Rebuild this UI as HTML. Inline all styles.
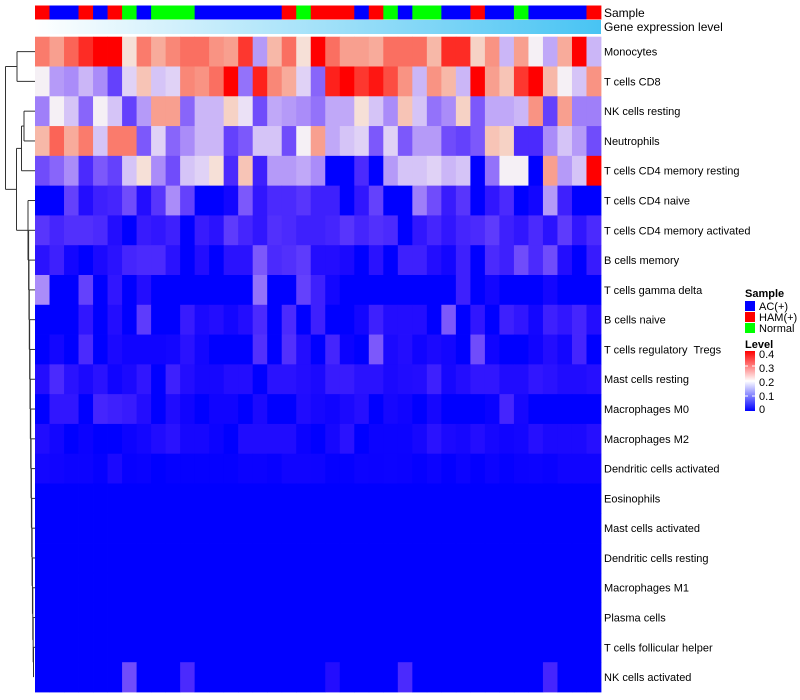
<!DOCTYPE html>
<html><head><meta charset="utf-8"><style>
html,body{margin:0;padding:0;background:#fff;}
svg{display:block;font-family:"Liberation Sans",sans-serif;}
#rowLabels text{white-space:pre;}
</style></head><body>
<svg id="chart" width="800" height="700" xmlns="http://www.w3.org/2000/svg">
<g id="dendro" stroke="#333" stroke-width="1" fill="none"></g>
<g id="sampleBar"></g>
<defs><linearGradient id="geneGrad" x1="0" x2="1" y1="0" y2="0"><stop offset="0" stop-color="#ffffff"/><stop offset="1" stop-color="#48c4f3"/></linearGradient>
<linearGradient id="levelGrad" x1="0" x2="0" y1="1" y2="0"><stop offset="0" stop-color="#0000ff"/><stop offset="0.5" stop-color="#ffffff"/><stop offset="1" stop-color="#ff0000"/></linearGradient></defs>
<rect x="35" y="20" width="566" height="14" fill="url(#geneGrad)"/>
<text x="604" y="17" font-size="12">Sample</text>
<text x="604" y="31" font-size="12">Gene expression level</text>
<g id="cells"></g>
<g id="rowLabels" font-size="11"></g>
<g font-size="11">
<text x="745" y="297" font-weight="bold">Sample</text>
<rect x="745" y="301" width="10" height="10" fill="#0000ff"/>
<text x="759" y="310">AC(+)</text>
<rect x="745" y="312" width="10" height="10" fill="#ff0000"/>
<text x="759" y="321">HAM(+)</text>
<rect x="745" y="323" width="10" height="10" fill="#00ff00"/>
<text x="759" y="332">Normal</text>
<text x="745" y="348" font-weight="bold">Level</text>
<rect x="745" y="351" width="10" height="60" fill="url(#levelGrad)"/>
<g stroke="#fff" stroke-width="1"><line x1="745" x2="748" y1="366" y2="366"/><line x1="752" x2="755" y1="366" y2="366"/><line x1="745" x2="748" y1="381" y2="381"/><line x1="752" x2="755" y1="381" y2="381"/><line x1="745" x2="748" y1="396" y2="396"/><line x1="752" x2="755" y1="396" y2="396"/></g>
<text x="759" y="358">0.4</text>
<text x="759" y="372">0.3</text>
<text x="759" y="386">0.2</text>
<text x="759" y="400">0.1</text>
<text x="759" y="413">0</text>
</g>
</svg>
<script>
const rowNames = ["Monocytes","T cells CD8","NK cells resting","Neutrophils","T cells CD4 memory resting","T cells CD4 naive","T cells CD4 memory activated","B cells memory","T cells gamma delta","B cells naive","T cells regulatory  Tregs","Mast cells resting","Macrophages M0","Macrophages M2","Dendritic cells activated","Eosinophils","Mast cells activated","Dendritic cells resting","Macrophages M1","Plasma cells","T cells follicular helper","NK cells activated"];
const sampleGroups = "RBBRBRGBGGGBBBBBBRGRRRBRGBGGBBRBBGBBBBR";
const r0 = [.29,.26,.31,.36,.4,.4,.21,.29,.25,.28,.3,.3,.27,.26,.35,.14,.24,.3,.21,.4,.3,.26,.26,.25,.3,.3,.3,.24,.36,.36,.22,.27,.16,.26,.2,.15,.25,.4,.16];
const r1 = [.2,.14,.13,.16,.13,.07,.18,.23,.17,.18,.28,.27,.3,.4,.11,.37,.28,.25,.18,.1,.37,.4,.35,.38,.33,.27,.16,.27,.24,.16,.4,.26,.23,.35,.4,.24,.2,.17,.27];
const r2 = [.12,.2,.17,.1,.2,.17,.07,.14,.26,.26,.1,.16,.16,.22,.19,.08,.15,.14,.13,.11,.15,.15,.21,.17,.13,.23,.17,.11,.13,.22,.09,.15,.15,.16,.27,.07,.26,.12,.12];
const r3 = [.24,.31,.25,.29,.17,.29,.29,.09,.18,.1,.13,.16,.16,.07,.09,.17,.17,.08,.2,.26,.15,.17,.18,.09,.18,.09,.14,.14,.08,.07,.09,.23,.22,.05,.05,.13,.17,.14,.08];
const r4 = [.08,.1,.13,.05,.09,.07,.17,.21,.13,.08,.17,.18,.21,.05,.23,.04,.14,.14,.15,.13,0,0,.05,0,.14,.17,.17,.18,.16,.17,0,.11,.2,.2,0,.26,.14,.17,.4];
const r5 = [0,0,.07,.02,.04,.045,.08,.02,.06,.13,.07,0,0,.01,.09,.03,.05,.05,.06,.04,.04,0,.03,.07,0,0,.12,.08,.035,.06,0,.03,.05,0,.01,.14,.04,0,0];
const r6 = [.06,.045,.055,.055,.05,.02,0,.035,.03,.04,0,.035,.025,.065,.045,.03,.055,.05,.04,.04,.045,.06,.045,.055,.05,0,.03,.045,.03,.045,.05,.065,.04,.03,.05,.025,.065,.03,.05];
const r7 = [.025,.04,.01,0,.015,.025,.045,.05,.05,.025,0,.02,0,.025,.025,.09,.05,.055,.065,.02,.02,.015,0,.025,0,.04,.04,.02,.01,.04,0,.05,.04,.08,.05,.08,.02,0,.035];
const r8 = [.13,0,0,.07,0,.03,0,.02,0,0,0,0,0,0,0,.11,0,0,.07,.04,.01,0,0,0,0,0,0,0,0,.04,0,.01,0,0,0,.01,0,0,0];
const r9 = [0,0,0,.03,0,.02,0,.065,0,0,.035,.015,.02,.01,.02,.05,0,.05,0,.04,0,0,.01,.04,.02,.02,.02,0,.09,0,.03,0,.04,.03,.01,.04,.03,.045,.02];
const r10 = [0,.01,0,.05,0,.015,.008,.008,.008,.01,.025,.01,0,0,0,.055,0,.055,.02,0,.045,.005,0,.09,.015,.02,.008,.015,.01,0,.08,.008,0,0,.008,.02,.01,.045,0];
const r11 = [.02,.05,.025,.015,.025,.008,.015,.03,0,.04,.02,.012,.012,.02,.02,0,.025,.025,.02,.015,.035,.035,.025,.025,.015,.018,.02,.04,.012,.02,.03,.03,.018,.018,.03,.025,.018,.018,.022];
const r12 = [0,.03,.03,0,.045,.04,.035,.02,0,.018,.008,0,.008,.008,0,.015,0,0,.018,.012,.008,.015,.022,0,.012,.008,0,.012,0,0,0,.004,.045,.012,0,0,0,0,0];
const r13 = [.018,.01,0,.005,0,0,.006,.01,.018,.025,.012,.012,.006,0,.018,.018,.018,.018,.005,0,.012,.025,0,.006,.006,.006,.012,.025,.015,.012,.02,.012,.008,.01,.022,.015,.015,.015,.022];
const r14 = [.01,.008,.006,.006,.002,.015,.003,.004,0,.002,.002,.002,.002,.002,.005,.005,.003,.008,.008,.007,.002,.002,.006,.005,.006,.005,.002,.006,.001,.006,.001,.006,.002,.005,.006,.004,.008,.008,.008];
const r15 = [0,0,0,0,0,0,0,0,0,0,0,0,0,0,0,0,0,0,0,0,0,0,0,0,0,0,0,0,0,0,0,0,0,0,0,0,0,0,0];
const r16 = r15, r17 = r15, r18 = r15, r19 = r15, r20 = r15;
const r21 = [0,0,0,0,0,0,.08,0,0,0,.05,0,0,0,0,0,0,0,0,0,.02,0,0,0,0,.05,0,0,0,0,0,0,0,0,0,.045,0,0,0];
const values = [r0,r1,r2,r3,r4,r5,r6,r7,r8,r9,r10,r11,r12,r13,r14,r15,r16,r17,r18,r19,r20,r21];

const X0 = 35, X1 = 601, Y0 = 36.7, Y1 = 692;
const nCol = r0.length, nRow = rowNames.length;
const cw = (X1 - X0) / nCol, rh = (Y1 - Y0) / nRow;
function xPos(i){ return X0 + i * cw; }
function yPos(r){ return Y0 + r * rh; }
function color(v){
  v = Math.max(0, Math.min(0.4, v));
  let R,G,B;
  if (v <= 0.2){ const t = v/0.2; R = 245*Math.pow(t,0.85); G = 240*Math.pow(t,1.25); B = 255 - 10*t; }
  else { const t = (v-0.2)/0.2; R = 245 + 10*t; G = 240*(1-Math.pow(t,0.9)); B = 240*(1-Math.pow(t,0.75)); }
  return `rgb(${Math.round(R)},${Math.round(G)},${Math.round(B)})`;
}
const NS = "http://www.w3.org/2000/svg";
const cells = document.getElementById('cells');
values.forEach((row, r) => {
  row.forEach((v, i) => {
    const el = document.createElementNS(NS, 'rect');
    el.setAttribute('x', xPos(i)); el.setAttribute('y', yPos(r));
    el.setAttribute('width', cw + 0.4); el.setAttribute('height', rh + 0.4);
    el.setAttribute('fill', color(v));
    
    
    cells.appendChild(el);
  });
});
const gcol = {R:'#ff0000', B:'#0000ff', G:'#00ff00'};
const sb = document.getElementById('sampleBar');
sampleGroups.split('').forEach((g, i) => {
  const el = document.createElementNS(NS, 'rect');
  el.setAttribute('x', xPos(i)); el.setAttribute('y', 5.5);
  el.setAttribute('width', cw + 0.4); el.setAttribute('height', 14);
  el.setAttribute('fill', gcol[g]);
  
  
  sb.appendChild(el);
});
const rl = document.getElementById('rowLabels');
rowNames.forEach((n, r) => {
  const t = document.createElementNS(NS, 'text');
  t.setAttribute('x', 604); t.setAttribute('y', yPos(r) + rh/2 + 4);
  t.textContent = n;
  
  
  rl.appendChild(t);
});
const d = document.getElementById('dendro');
function cy(r){ return yPos(r) + rh/2; }
function line(x1,y1,x2,y2){
  const l = document.createElementNS(NS,'line');
  l.setAttribute('x1',x1); l.setAttribute('y1',y1); l.setAttribute('x2',x2); l.setAttribute('y2',y2);
  
  
  d.appendChild(l);
}
function join(x, ya, xa, yb, xb){ line(xa,ya,x,ya); line(xb,yb,x,yb); line(x,ya,x,yb); return (ya+yb)/2; }
const m01 = join(17, cy(0), 35, cy(1), 35);
const m23 = join(24, cy(2), 35, cy(3), 35);
const m234 = join(21.5, m23, 24, cy(4), 35);
let lowY = cy(21);
let lowX = 33.5;
for (let r = 20; r >= 6; r--){ const nx = 33.5 - (20-r)*0.35; lowY = join(nx, cy(r), 35, lowY, lowX); lowX = nx; }
const m5 = join(28, cy(5), 35, lowY, lowX);
const mMid = join(16.5, m234, 21.5, m5, 28);
join(5.5, m01, 17, mMid, 16.5);
</script>
</body></html>
